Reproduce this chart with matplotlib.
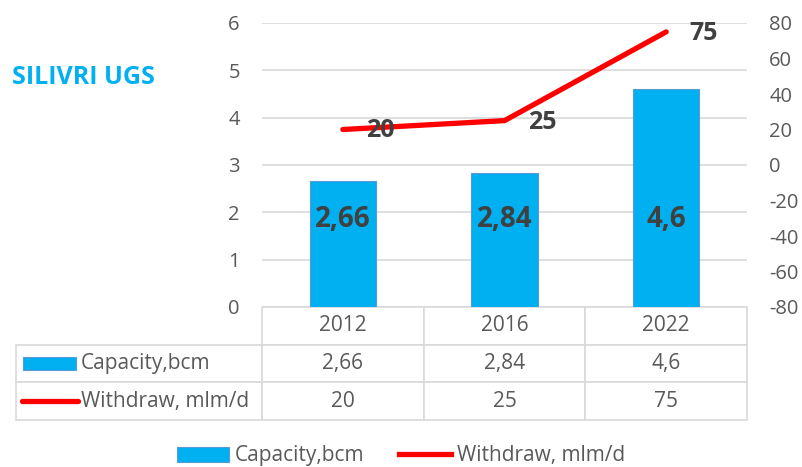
import matplotlib.pyplot as plt
from matplotlib.patches import Patch, Rectangle
from matplotlib.lines import Line2D
from matplotlib.table import Table

# dati
anni = ['2012', '2016', '2022']
capacita = [2.66, 2.84, 4.6]
prelievo = [20, 25, 75]
etichette_cap = ['2,66', '2,84', '4,6']
etichette_prel = ['20', '25', '75']
serie = ['Capacity,bcm', 'Withdraw, mlm/d']
titolo = 'SILIVRI UGS'

blu = '#00B0F0'
rosso = '#FF0000'
grigio = '#595959'
griglia = '#D9D9D9'

plt.rcParams['font.family'] = ['Open Sans', 'DejaVu Sans']
plt.rcParams['axes.unicode_minus'] = False

W, H = 802, 467
fig = plt.figure(figsize=(W / 100, H / 100), dpi=100)

def fx(x):
    return x / W

def fy(y):
    return 1 - y / H

# area del grafico (pixel)
left, right, top, bottom = 262, 747, 23, 307
ax = fig.add_axes([fx(left), fy(bottom), fx(right - left), (bottom - top) / H])
ax2 = ax.twinx()

x = list(range(len(anni)))
ax.bar(x, capacita, width=0.41, color=blu, edgecolor='#5B9BD5', linewidth=0.8, zorder=2)
ax.set_xlim(-0.5, 2.5)
ax.set_ylim(0, 6)
ax.set_yticks(range(0, 7))
ax.grid(axis='y', color=griglia, linewidth=1.2, zorder=0)
ax.set_axisbelow(True)
ax.set_xticks([])

for xi, v in zip(x, etichette_cap):
    ax.text(xi, 1.85, v, ha='center', va='center', fontsize=20, fontweight='bold',
            color='#404040', zorder=3)

ax2.plot(x, prelievo, color=rosso, linewidth=3.8, solid_capstyle='round',
         solid_joinstyle='miter', zorder=3)
ax2.set_ylim(-80, 80)
ax2.set_yticks(range(-80, 81, 20))
for xi, val, lab in zip(x, prelievo, etichette_prel):
    ax2.annotate(lab, (xi, val), xytext=(27, -1), textcoords='offset points',
                 ha='center', va='center', fontsize=18, fontweight='bold', color='#404040')

for a in (ax, ax2):
    for s in a.spines.values():
        s.set_visible(False)
    a.tick_params(length=0, labelsize=14.5, labelcolor=grigio, pad=16)

# tabella dati
tab_left, tab_bottom = 15.7, 420
col0 = left - tab_left
colw = (right - left) / 3
rowh = (tab_bottom - bottom) / 3
tb = Table(ax, bbox=[(tab_left - left) / (right - left), -(tab_bottom - bottom) / (bottom - top),
                     (right - tab_left) / (right - left), (tab_bottom - bottom) / (bottom - top)])
tb.auto_set_font_size(False)
for j, anno in enumerate(anni):
    tb.add_cell(0, j + 1, colw, rowh, text=anno, loc='center')
valori = [etichette_cap, etichette_prel]
for i, riga in enumerate(valori):
    tb.add_cell(i + 1, 0, col0, rowh, text='')
    for j, v in enumerate(riga):
        tb.add_cell(i + 1, j + 1, colw, rowh, text=v, loc='center')
for cell in tb.get_celld().values():
    cell.set_edgecolor(griglia)
    cell.set_linewidth(1.2)
    cell.get_text().set_fontsize(15)
    cell.get_text().set_color(grigio)
ax.add_table(tb)

# chiavi nella tabella
fig.patches.append(Rectangle((fx(23), fy(370)), fx(53), 13 / H, transform=fig.transFigure,
                             facecolor=blu, edgecolor='#5B9BD5', linewidth=0.8))
fig.lines.append(Line2D([fx(22), fx(78)], [fy(401), fy(401)], transform=fig.transFigure,
                        color=rosso, linewidth=3.8, solid_capstyle='round'))
fig.text(fx(81), fy(363), serie[0], fontsize=15, color=grigio, va='center', ha='left')
fig.text(fx(81), fy(402), serie[1], fontsize=15, color=grigio, va='center', ha='left')

# titolo
fig.text(fx(12), fy(78), titolo, fontsize=18, fontweight='bold', color=blu, va='center', ha='left')

# legenda
maniglie = [Patch(facecolor=blu, edgecolor='#5B9BD5', linewidth=0.8, label=serie[0]),
            Line2D([0], [0], color=rosso, linewidth=3.8, label=serie[1])]
fig.legend(handles=maniglie, loc='center', bbox_to_anchor=(0.5, fy(456)), ncol=2,
           frameon=False, fontsize=15, labelcolor=grigio, handlelength=2.5,
           handleheight=0.72, handletextpad=0.25, columnspacing=1.7, borderpad=0)

fig.savefig('out.png', dpi=100)
